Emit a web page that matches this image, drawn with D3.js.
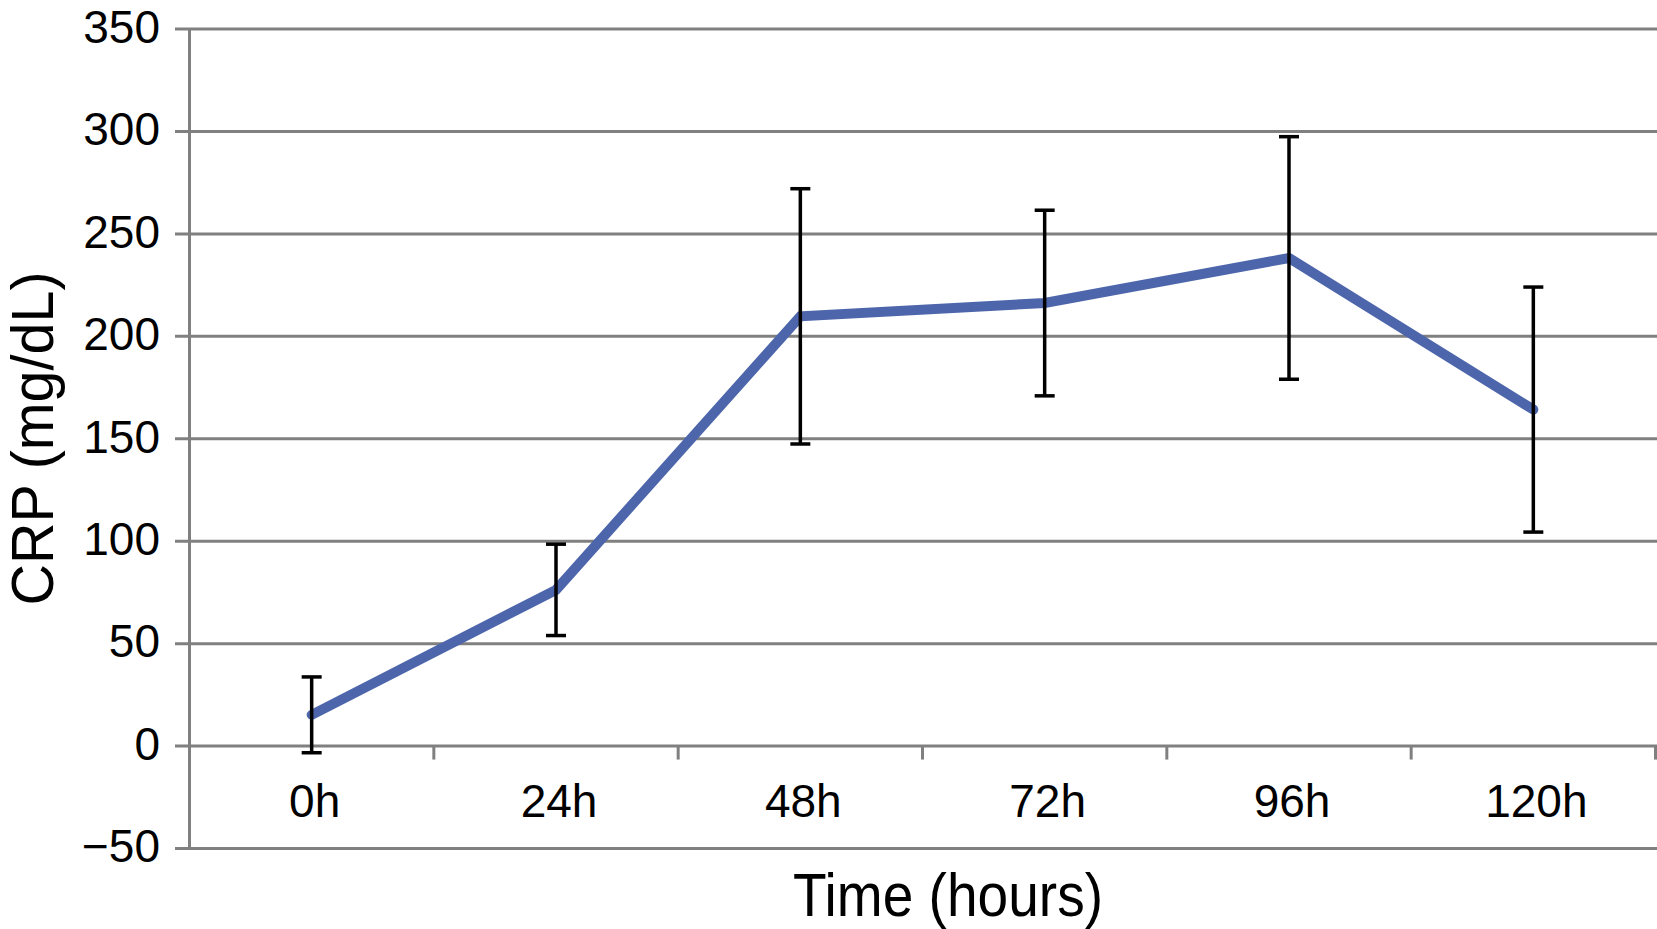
<!DOCTYPE html>
<html>
<head>
<meta charset="utf-8">
<script src="https://cdn.jsdelivr.net/npm/d3@7"></script>
<style>
  html, body { margin: 0; padding: 0; background: #fff; }
  svg { display: block; }
  text { font-family: "Liberation Sans", Arial, Helvetica, sans-serif; fill: #000; }
</style>
</head>
<body>
<svg id="chart" width="1657" height="929"></svg>
<script>
// ---- data ----
const categories = ["0h", "24h", "48h", "72h", "96h", "120h"];
const crpMean = [15, 76, 209.5, 216, 238, 164];
const crpError = [18.5, 22.3, 62.3, 45.3, 59.2, 59.8];
const yTicks = [-50, 0, 50, 100, 150, 200, 250, 300, 350];
const xTitle = "Time (hours)";
const yTitle = "CRP (mg/dL)";

// ---- layout ----
const W = 1657, H = 929;
const plotLeft = 189.5, plotRight = 1655.5;
const gridStart = 175;
const svg = d3.select("#chart");

const x = d3.scaleBand().domain(categories).range([plotLeft, plotRight]).padding(0);
const y = d3.scaleLinear().domain([-50, 350]).range([848, 28.5]);

const gridColor = "#808080";

// gridlines + y tick labels
const yAxis = d3.axisLeft(y)
  .tickValues(yTicks)
  .tickSizeInner(-(W - gridStart))
  .tickSizeOuter(0)
  .tickPadding(15)
  .tickFormat(d3.format("d"));

const gy = svg.append("g")
  .attr("transform", `translate(${gridStart},0)`)
  .call(yAxis);
gy.select(".domain").remove();
gy.selectAll(".tick line").attr("stroke", gridColor).attr("stroke-width", 3);
gy.selectAll(".tick text")
  .attr("font-size", 46)
  .attr("fill", "#000")
  .attr("dy", "0.30em");

// vertical y-axis line
svg.append("line")
  .attr("x1", plotLeft).attr("x2", plotLeft)
  .attr("y1", y(350)).attr("y2", y(-50))
  .attr("stroke", gridColor).attr("stroke-width", 3);

// x axis labels (positioned by band scale)
const xAxis = d3.axisBottom(x).tickSize(0).tickPadding(39);
const gx = svg.append("g")
  .attr("transform", `translate(0,${y(0)})`)
  .call(xAxis);
gx.select(".domain").remove();
gx.selectAll(".tick text").attr("font-size", 46).attr("fill", "#000").attr("dx", 3);

// category boundary ticks below zero line
const boundaries = categories.map(c => x(c) + x.bandwidth());
svg.append("g").selectAll("line")
  .data(boundaries)
  .join("line")
  .attr("x1", d => d).attr("x2", d => d)
  .attr("y1", y(0)).attr("y2", y(0) + 14)
  .attr("stroke", gridColor).attr("stroke-width", 3);

// data line
const pts = categories.map((c, i) => ({c, v: crpMean[i], e: crpError[i]}));
const line = d3.line()
  .x(d => x(d.c) + x.bandwidth() / 2)
  .y(d => y(d.v));

svg.append("path")
  .datum(pts)
  .attr("d", line)
  .attr("fill", "none")
  .attr("stroke", "#4d66ab")
  .attr("stroke-width", 10)
  .attr("stroke-linecap", "round")
  .attr("stroke-linejoin", "miter");

// error bars
const eb = svg.append("g").attr("stroke", "#000").attr("stroke-width", 3.5);
const capHalf = 10;
pts.forEach(d => {
  const cx = x(d.c) + x.bandwidth() / 2;
  eb.append("line")
    .attr("x1", cx).attr("x2", cx)
    .attr("y1", y(d.v + d.e)).attr("y2", y(d.v - d.e));
  eb.append("line")
    .attr("x1", cx - capHalf).attr("x2", cx + capHalf)
    .attr("y1", y(d.v + d.e)).attr("y2", y(d.v + d.e));
  eb.append("line")
    .attr("x1", cx - capHalf).attr("x2", cx + capHalf)
    .attr("y1", y(d.v - d.e)).attr("y2", y(d.v - d.e));
});

// axis titles
svg.append("text")
  .attr("x", 948).attr("y", 916)
  .attr("text-anchor", "middle")
  .attr("font-size", 61)
  .attr("textLength", 310)
  .attr("lengthAdjust", "spacingAndGlyphs")
  .text(xTitle);

svg.append("text")
  .attr("transform", "translate(53,438.5) rotate(-90)")
  .attr("text-anchor", "middle")
  .attr("font-size", 60)
  .attr("textLength", 334)
  .attr("lengthAdjust", "spacingAndGlyphs")
  .text(yTitle);
</script>
</body>
</html>
